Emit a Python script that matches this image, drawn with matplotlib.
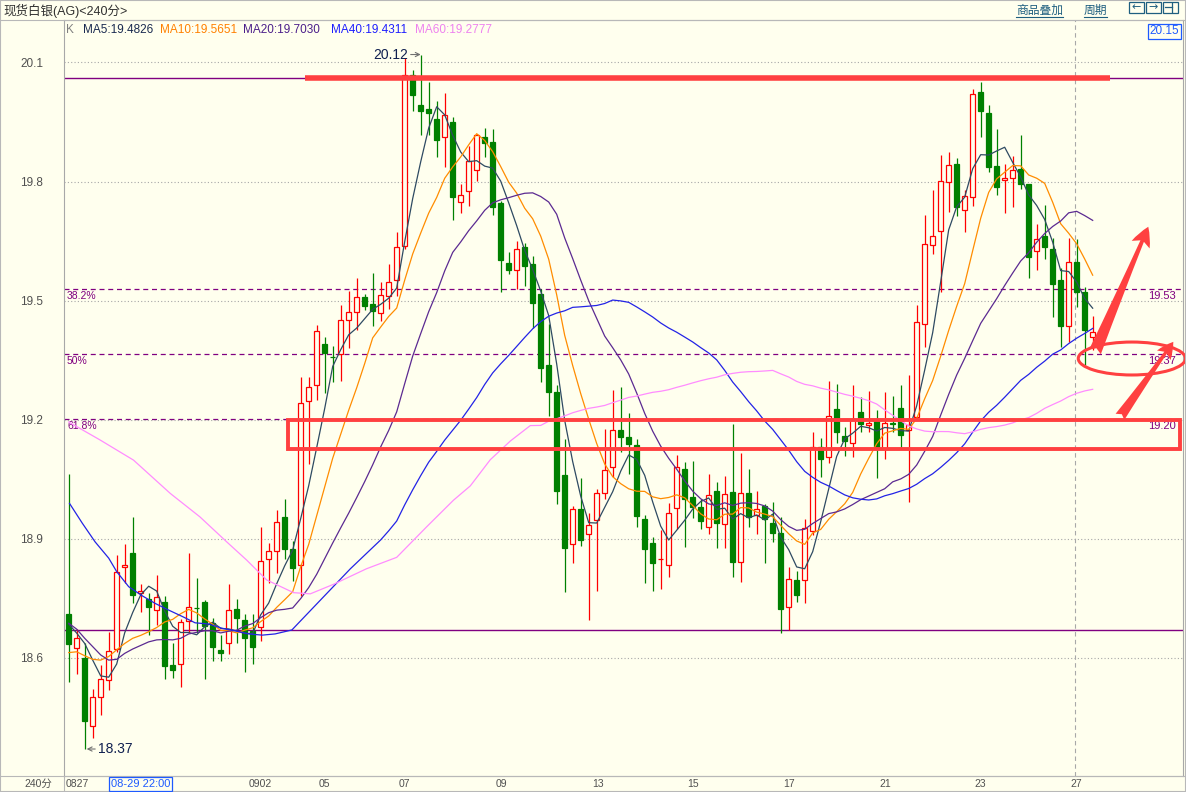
import numpy as np
import pandas as pd
import matplotlib
matplotlib.use("Agg")
import matplotlib.pyplot as plt
from matplotlib.patches import Rectangle, Ellipse
from matplotlib.lines import Line2D

plt.rcParams['font.family'] = ['Liberation Sans', 'Noto Sans CJK SC', 'DejaVu Sans']

# =========================
# DATA  (240-minute bars)
# =========================
opens = [18.710, 18.624, 18.600, 18.429, 18.502, 18.543, 18.622, 18.828, 18.863, 18.764,
         18.747, 18.720, 18.741, 18.582, 18.584, 18.693, 18.726, 18.740, 18.687, 18.620,
         18.636, 18.722, 18.694, 18.667, 18.678, 18.848, 18.869, 18.955, 18.873, 18.833,
         19.248, 19.288, 19.391, 19.359, 19.366, 19.452, 19.470, 19.510, 19.491, 19.468,
         19.511, 19.553, 19.638, 20.068, 19.992, 19.982, 19.957, 19.913, 19.950, 19.749,
         19.777, 19.830, 19.911, 19.900, 19.745, 19.594, 19.577, 19.635, 19.592, 19.517,
         19.337, 19.269, 19.060, 18.886, 18.975, 18.912, 18.947, 19.016, 19.080, 19.174,
         19.155, 19.136, 18.949, 18.890, 18.848, 18.834, 18.977, 19.075, 19.005, 18.981,
         18.929, 19.020, 18.936, 19.017, 18.842, 19.016, 18.960, 18.983, 18.940, 18.915,
         18.727, 18.796, 18.796, 18.919, 19.130, 19.105, 19.226, 19.159, 19.140, 19.218,
         19.186, 19.201, 19.127, 19.192, 19.230, 19.175, 19.207, 19.442, 19.640, 19.676,
         19.798, 19.844, 19.728, 19.760, 20.025, 19.973, 19.839, 19.803, 19.808, 19.831,
         19.793, 19.625, 19.662, 19.631, 19.552, 19.437, 19.596, 19.521, 19.407]
highs = [19.063, 18.672, 18.638, 18.521, 18.582, 18.664, 18.858, 18.887, 18.954, 18.786,
         18.764, 18.808, 18.756, 18.636, 18.698, 18.865, 18.802, 18.746, 18.699, 18.657,
         18.786, 18.747, 18.711, 18.710, 18.929, 18.889, 18.972, 18.999, 18.894, 19.308,
         19.308, 19.439, 19.407, 19.385, 19.489, 19.525, 19.556, 19.516, 19.569, 19.547,
         19.593, 19.672, 20.110, 20.081, 20.120, 20.051, 20.002, 20.022, 19.963, 19.795,
         19.889, 19.919, 19.936, 19.932, 19.750, 19.623, 19.649, 19.645, 19.612, 19.530,
         19.441, 19.287, 19.151, 18.983, 19.053, 18.964, 19.025, 19.177, 19.274, 19.282,
         19.216, 19.151, 18.960, 18.903, 18.921, 18.990, 19.112, 19.094, 19.096, 18.999,
         19.064, 19.044, 19.058, 19.190, 19.115, 19.076, 19.020, 18.987, 18.993, 18.954,
         18.828, 18.819, 18.949, 19.169, 19.153, 19.297, 19.290, 19.182, 19.287, 19.256,
         19.272, 19.224, 19.269, 19.259, 19.287, 19.312, 19.489, 19.715, 19.778, 19.866,
         19.875, 19.860, 19.778, 20.034, 20.051, 19.992, 19.932, 19.845, 19.864, 19.917,
         19.795, 19.694, 19.742, 19.657, 19.581, 19.657, 19.654, 19.533, 19.461]
lows = [18.538, 18.559, 18.370, 18.399, 18.456, 18.519, 18.615, 18.789, 18.739, 18.716,
        18.657, 18.683, 18.547, 18.548, 18.526, 18.662, 18.662, 18.546, 18.592, 18.593,
        18.609, 18.636, 18.565, 18.584, 18.641, 18.789, 18.813, 18.848, 18.793, 18.756,
        19.089, 19.250, 19.267, 19.296, 19.298, 19.381, 19.426, 19.477, 19.436, 19.448,
        19.479, 19.511, 19.630, 19.978, 19.917, 19.917, 19.861, 19.837, 19.703, 19.720,
        19.739, 19.801, 19.862, 19.715, 19.521, 19.567, 19.528, 19.537, 19.431, 19.295,
        19.209, 18.988, 18.766, 18.838, 18.882, 18.695, 18.769, 18.999, 19.055, 19.119,
        19.064, 18.929, 18.788, 18.769, 18.773, 18.804, 18.925, 18.879, 18.951, 18.925,
        18.912, 18.876, 18.877, 18.804, 18.792, 18.930, 18.913, 18.838, 18.892, 18.662,
        18.670, 18.741, 18.737, 18.910, 19.056, 19.090, 19.140, 19.109, 19.107, 19.170,
        19.170, 19.052, 19.101, 19.170, 19.128, 18.993, 19.200, 19.384, 19.617, 19.522,
        19.724, 19.714, 19.673, 19.738, 19.913, 19.824, 19.766, 19.720, 19.735, 19.780,
        19.558, 19.578, 19.605, 19.459, 19.384, 19.396, 19.485, 19.338, 19.375]
closes = [18.634, 18.649, 18.440, 18.502, 18.546, 18.618, 18.815, 18.833, 18.758, 18.768,
          18.727, 18.754, 18.580, 18.568, 18.689, 18.727, 18.725, 18.681, 18.626, 18.611,
          18.720, 18.699, 18.649, 18.628, 18.845, 18.868, 18.942, 18.875, 18.827, 19.241,
          19.282, 19.423, 19.367, 19.357, 19.452, 19.470, 19.508, 19.486, 19.474, 19.515,
          19.547, 19.636, 20.069, 20.018, 19.978, 19.973, 19.904, 19.967, 19.761, 19.767,
          19.851, 19.917, 19.898, 19.736, 19.603, 19.578, 19.629, 19.587, 19.495, 19.331,
          19.269, 19.019, 18.877, 18.975, 18.897, 18.934, 19.014, 19.073, 19.174, 19.155,
          19.139, 18.958, 18.873, 18.838, 18.850, 18.964, 19.081, 18.999, 18.979, 18.945,
          19.009, 18.939, 19.012, 18.842, 19.014, 18.955, 18.976, 18.949, 18.915, 18.724,
          18.798, 18.758, 18.926, 19.130, 19.102, 19.210, 19.169, 19.147, 19.201, 19.189,
          19.192, 19.127, 19.192, 19.190, 19.161, 19.186, 19.445, 19.642, 19.662, 19.801,
          19.841, 19.736, 19.763, 20.020, 19.978, 19.837, 19.787, 19.810, 19.829, 19.795,
          19.610, 19.654, 19.634, 19.543, 19.437, 19.598, 19.521, 19.427, 19.421]

ma_periods = [5, 10, 20, 40, 60]
ma_lead_x = {
    5: [0, 1, 2, 3],
    10: [0, 1, 2, 3, 4, 5, 6, 7, 8],
    20: list(range(19)),
    40: [0.1, 1.7, 3.3, 5.0, 6.0, 7.5, 9.2, 10.8, 12.5, 14.2, 15.8, 17.5, 19.2, 20.8,
         22.5, 24.2, 25.8, 27.9, 29.7, 35.2],
    60: [0, 3.9, 8.1, 12.7, 16.4, 19.75, 22.25, 24.75, 28.1, 30.2, 33.1, 37.2, 41.0,
         44.75, 48.1, 50.2, 52.7, 55.2, 57.7],
}
ma_lead_y = {
    5: [18.685, 18.662, 18.636, 18.594],
    10: [18.613, 18.615, 18.605, 18.596, 18.594, 18.603, 18.620, 18.636, 18.649],
    20: [18.687, 18.672, 18.649, 18.628, 18.607, 18.594, 18.596, 18.611, 18.622, 18.631,
         18.640, 18.645, 18.646, 18.645, 18.649, 18.660, 18.664, 18.668, 18.668],
    40: [18.989, 18.939, 18.892, 18.851, 18.817, 18.779, 18.756, 18.737, 18.720, 18.704,
         18.688, 18.685, 18.674, 18.668, 18.660, 18.657, 18.660, 18.670, 18.708, 18.824],
    60: [19.194, 19.149, 19.098, 19.014, 18.955, 18.892, 18.846, 18.796, 18.764, 18.761,
         18.785, 18.824, 18.853, 18.930, 18.997, 19.033, 19.099, 19.146, 19.185],
}
ma_texts = ["MA5:19.4826", "MA10:19.5651", "MA20:19.7030", "MA40:19.4311", "MA60:19.2777"]

fib_high = 20.06
fib_low = 18.67
fib_ratios = [0.382, 0.5, 0.618]
fib_names = ["38.2%", "50%", "61.8%"]

y_ticks = [18.6, 18.9, 19.2, 19.5, 19.8, 20.1]
x_tick_pos = [-0.34, 22.5, 31.3, 41.3, 53.4, 65.5, 77.3, 89.3, 101.3, 113.2, 125.2]
x_tick_labels = ["0827", "0902", "05", "07", "09", "13", "15", "17", "21", "23", "27"]

high_idx, high_val = 44, 20.12
low_idx, low_val = 2, 18.37

# =========================
# STYLE
# =========================
W, H = 1186, 792
BG = '#FFFFEE'
UP = '#FF0000'
DOWN = '#008000'
GRID = '#A8A8A8'
FIB = '#800080'
MARK = '#FF4040'
ICON = '#1F5F80'
ma_colors = ['#2E4A62', '#FF8C00', '#5B2A91', '#2323E6', '#FF8CFF']
ma_text_colors = ['#1A2A50', '#FF8000', '#4B1E8A', '#1E1EFF', '#EE82EE']


def fx(px):
    return px / W


def fy(py):
    return 1 - py / H


fig = plt.figure(figsize=(W / 100, H / 100), dpi=100)
fig.patch.set_facecolor(BG)

ax = fig.add_axes([fx(64), fy(776), (1183 - 64) / W, (776 - 20) / H])
ax.set_facecolor(BG)
ax.set_xlim(-0.5875, 139.29)
ax.set_ylim(18.302, 20.207)
for sp in ax.spines.values():
    sp.set_color('#A8A8A8')
    sp.set_linewidth(0.8)

ax.set_yticks(y_ticks)
ax.set_yticklabels([f"{v:.1f}" for v in y_ticks], fontsize=8.5, color='#505050')
ax.set_xticks(x_tick_pos)
ax.set_xticklabels(x_tick_labels, fontsize=7.5, color='#505050', ha='left')
ax.tick_params(axis='y', length=0, pad=15)
ax.tick_params(axis='x', length=0, pad=2.5)
ax.grid(axis='y', ls=(0, (1, 2)), color=GRID, lw=0.8)

# =========================
# CANDLES
# =========================
x = np.arange(len(closes))
o = np.array(opens)
hi = np.array(highs)
lo = np.array(lows)
c = np.array(closes)
up = c >= o
body_lo = np.minimum(o, c)
body_h = np.abs(c - o)

ax.vlines(x[up], lo[up], hi[up], color=UP, lw=0.9, zorder=2)
ax.vlines(x[~up], lo[~up], hi[~up], color=DOWN, lw=0.9, zorder=2)
ax.bar(x[up], body_h[up], bottom=body_lo[up], width=0.62, facecolor=BG,
       edgecolor=UP, lw=0.9, zorder=3)
ax.bar(x[~up], body_h[~up], bottom=body_lo[~up], width=0.62, facecolor=DOWN,
       edgecolor=DOWN, lw=0.9, zorder=3)

# =========================
# MOVING AVERAGES
# =========================
s = pd.Series(closes)
for n, col in zip(ma_periods, ma_colors):
    ma = s.rolling(n).mean().to_numpy()
    xs = list(ma_lead_x[n]) + list(range(n - 1, len(closes)))
    ys = list(ma_lead_y[n]) + list(ma[n - 1:])
    ax.plot(xs, ys, color=col, lw=0.9, zorder=4)

# =========================
# FIBONACCI / LEVELS
# =========================
ax.axhline(fib_high, color=FIB, lw=1.0, zorder=1)
ax.axhline(fib_low, color=FIB, lw=1.0, zorder=1)
for r, name in zip(fib_ratios, fib_names):
    lvl = fib_high - r * (fib_high - fib_low)
    ax.axhline(lvl, color=FIB, lw=0.9, ls=(0, (4, 3)), zorder=1)
    ax.annotate(name, (-0.21, lvl), xytext=(0, -1.5), textcoords='offset points',
                ha='left', va='top', fontsize=7.5, color=FIB)
    ax.annotate(f"{lvl:.2f}", (134.9, lvl), xytext=(0, -1.5), textcoords='offset points',
                ha='left', va='top', fontsize=8, color=FIB)

# crosshair
ax.axvline(125.74, color='#A8A8A8', lw=0.8, ls=(0, (4, 3)), zorder=1)

# high / low marks
ax.annotate(f"{high_val:.2f}", xy=(high_idx, high_val), xytext=(42.4, high_val),
            ha='right', va='center', fontsize=10, color='#102050',
            arrowprops=dict(arrowstyle='->,head_length=0.3,head_width=0.15',
                            color='#707070', lw=0.8, shrinkA=0, shrinkB=0))
ax.annotate(f"{low_val:.2f}", xy=(low_idx + 0.25, low_val), xytext=(3.66, low_val),
            ha='left', va='center', fontsize=10, color='#102050',
            arrowprops=dict(arrowstyle='->,head_length=0.3,head_width=0.15',
                            color='#707070', lw=0.8, shrinkA=0, shrinkB=0))

# =========================
# HAND-DRAWN RED MARKS
# =========================
ax.plot([29.5, 130.2], [20.06, 20.06], color=MARK, lw=4.0, solid_capstyle='butt', zorder=5)
ax.add_patch(Rectangle((27.41, 19.126), 111.5, 0.073, fill=False, edgecolor=MARK,
                       lw=2.8, zorder=5, clip_on=False))
ax.add_patch(Ellipse((132.9, 19.354), 13.4, 0.083, fill=False, edgecolor=MARK,
                     lw=2.2, zorder=6, clip_on=False))
ax.annotate("", xy=(134.95, 19.686), xytext=(128.29, 19.371),
            arrowprops=dict(arrowstyle='fancy,head_length=1.0,head_width=1.0,tail_width=0.65',
                            mutation_scale=14, color=MARK, lw=0, shrinkA=0, shrinkB=0),
            zorder=6, annotation_clip=False)
ax.annotate("", xy=(138.08, 19.396), xytext=(131.41, 19.207),
            arrowprops=dict(arrowstyle='fancy,head_length=0.85,head_width=0.85,tail_width=0.55',
                            mutation_scale=14, color=MARK, lw=0, shrinkA=0, shrinkB=0),
            zorder=6, annotation_clip=False)

# =========================
# HEADER / FRAME
# =========================
fig.text(fx(3), fy(10.5), "现货白银(AG)<240分>", fontsize=9, va='center', color='#303030')
fig.text(fx(1016), fy(10.5), "商品叠加", fontsize=8.5, va='center', color=ICON)
fig.text(fx(1084), fy(10.5), "周期", fontsize=8.5, va='center', color=ICON)
fig.add_artist(Line2D([fx(1016), fx(1063)], [fy(16.5), fy(16.5)], color=ICON, lw=0.8))
fig.add_artist(Line2D([fx(1084), fx(1107)], [fy(16.5), fy(16.5)], color=ICON, lw=0.8))

# toolbar buttons: left, right, layout
for bx in [1129, 1146, 1163]:
    fig.add_artist(Rectangle((fx(bx), fy(12.5)), 15 / W, 11 / H, fill=False,
                             edgecolor=ICON, lw=0.9))
fig.text(fx(1136.5), fy(7.5), "←", fontsize=8, ha='center', va='center',
         color=ICON, family=['DejaVu Sans'])
fig.text(fx(1153.5), fy(7.5), "→", fontsize=8, ha='center', va='center',
         color=ICON, family=['DejaVu Sans'])
fig.add_artist(Line2D([fx(1165), fx(1172)], [fy(7), fy(7)], color=ICON, lw=0.9))
fig.add_artist(Line2D([fx(1172), fx(1172)], [fy(2.5), fy(11.5)], color=ICON, lw=0.9))

fig.add_artist(Line2D([0, 1], [fy(20), fy(20)], color='#B8B8B8', lw=0.8))
fig.add_artist(Line2D([0, 1], [fy(776), fy(776)], color='#B8B8B8', lw=0.8))
fig.add_artist(Line2D([fx(64), fx(64)], [fy(776), fy(792)], color='#B8B8B8', lw=0.8))
fig.add_artist(Rectangle((0, 0), 1, 1, fill=False, edgecolor='#B8B8B8', lw=1.5))

# MA legend row
fig.text(fx(66), fy(30), "K", fontsize=8.5, va='center', color='#808080')
for px, txt, col in zip([82.7, 160, 243, 331, 415], ma_texts, ma_text_colors):
    fig.text(fx(px), fy(30), txt, fontsize=8.5, va='center', color=col)

fig.text(fx(1164.5), fy(31.5), "20.15", fontsize=8.5, ha='center', va='center', color='#1E5AFF',
         bbox=dict(boxstyle='square,pad=0.15', facecolor=BG, edgecolor='#1E5AFF', lw=0.9))

# bottom row
fig.text(fx(52), fy(784), "240分", fontsize=7.5, ha='right', va='center', color='#505050')
fig.text(fx(140.5), fy(784), "08-29 22:00", fontsize=8, ha='center', va='center', color='#1E5AFF',
         bbox=dict(boxstyle='square,pad=0.2', facecolor=BG, edgecolor='#1E5AFF', lw=0.9))

fig.savefig("out.png", dpi=100, facecolor=BG)
